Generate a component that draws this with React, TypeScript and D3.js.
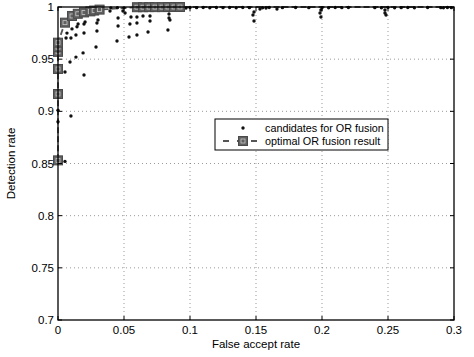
import React from "react";
import * as d3 from "d3";

// Candidate OR-fusion operating points: [false accept rate, detection rate]
const candidateFar: number[] = [
  0, 0, 0.0098, 0.0053, 0.0053, 0.0197, 0.0091, 0.0136, 0.019, 0.0288,
  0.0061, 0.0098, 0.0136, 0.0197, 0.0295, 0.0447, 0.0538, 0.0598, 0.0682, 0.0833,
  0.0106, 0.0144, 0.0152, 0.0197, 0.0205, 0.0295, 0.0303, 0.0455, 0.0455, 0.0545,
  0.0553, 0.0598, 0.0598, 0.0644, 0.0697, 0.0697, 0.0841, 0.0841, 0.0848, 0.0333,
  0.0394, 0.0492, 0.0508, 0.1477, 0.1485, 0.1485, 0.153, 0.1576, 0.1659, 0.1992,
  0.1985, 0.1992, 0.2477, 0.2477, 0.2485, 0.0068,
  0.04, 0.045, 0.05, 0.075, 0.1, 0.105, 0.11, 0.115, 0.12, 0.125,
  0.13, 0.135, 0.14, 0.145, 0.155, 0.16, 0.17, 0.18, 0.19, 0.2,
  0.205, 0.21, 0.215, 0.22, 0.24, 0.245, 0.25, 0.255, 0.26, 0.265,
  0.27, 0.28, 0.29, 0.292, 0.295, 0.298, 0.063, 0.068, 0.09, 0.097,
];
const candidateDet: number[] = [
  0.901, 0.89, 0.8955, 0.852, 0.9377, 0.9348, 0.9473, 0.952, 0.956, 0.9616,
  0.9703, 0.9703, 0.9732, 0.9751, 0.977, 0.9674, 0.9712, 0.9732, 0.976, 0.978,
  0.979, 0.981, 0.9837, 0.9837, 0.9856, 0.9847, 0.9875, 0.9895, 0.9818, 0.9837,
  0.9904, 0.9847, 0.9904, 0.9914, 0.9914, 0.9866, 0.9933, 0.9895, 0.9875, 0.9962,
  0.9962, 0.9962, 0.9942, 0.9923, 0.9952, 0.9866, 0.998, 0.999, 0.998, 0.9971,
  0.9942, 0.9904, 0.9971, 0.9942, 0.9923, 0.975,
  0.9992, 0.9994, 0.9992, 0.9995, 0.9995, 0.9994, 0.9995, 0.9993, 0.9995, 0.9994,
  0.9995, 0.9993, 0.9995, 0.9994, 0.9993, 0.9995, 0.9994, 0.9995, 0.9994, 0.9993,
  0.9992, 0.9995, 0.9994, 0.9995, 0.9994, 0.9993, 0.9995, 0.9992, 0.9994, 0.9995,
  0.9993, 0.9995, 0.9994, 0.9993, 0.9995, 0.9994, 0.9985, 0.9988, 0.9987, 0.999,
];

// Optimal OR fusion result (ROC envelope)
const optimalFar: number[] = [
  0, 0, 0, 0, 0, 0, 0.0053, 0.0106, 0.015, 0.0197,
  0.0245, 0.0274, 0.0315, 0.0598, 0.0644, 0.069, 0.0735, 0.0788, 0.0833, 0.0879,
  0.0924, 0.3,
];
const optimalDet: number[] = [
  0.853, 0.9166, 0.9406, 0.957, 0.9615, 0.9658, 0.985, 0.9914, 0.9935, 0.9948,
  0.9958, 0.9966, 0.9975, 0.9998, 0.9998, 0.9999, 0.9999, 0.9999, 1, 1,
  1, 1,
];
const markerCount = 21; // last optimal point only extends the line

const xTicks: number[] = [0, 0.05, 0.1, 0.15, 0.2, 0.25, 0.3];
const yTicks: number[] = [0.7, 0.75, 0.8, 0.85, 0.9, 0.95, 1];

const legendLabels: string[] = ["candidates for OR fusion", "optimal OR fusion result"];

const W = 474;
const H = 357;
const M = { left: 58, right: 20, top: 7, bottom: 37 };
const FONT = "'Liberation Sans', Arial, Helvetica, sans-serif";

export default function App() {
  const x = d3.scaleLinear().domain([0, 0.3]).range([M.left, W - M.right]);
  const y = d3.scaleLinear().domain([0.7, 1]).range([H - M.bottom, M.top]);

  const line = d3
    .line<number>()
    .x((i) => x(optimalFar[i]))
    .y((i) => y(optimalDet[i]));
  const idx = optimalFar.map((_, i) => i);

  const x0 = x.range()[0];
  const x1 = x.range()[1];
  const y0 = y.range()[0];
  const y1 = y.range()[1];

  const Marker = ({ cx, cy }: { cx: number; cy: number }) => (
    <g>
      <rect x={cx - 4.5} y={cy - 4.5} width={9} height={9} fill="#606060" stroke="#4a4a4a" strokeWidth={1} />
      <rect x={cx - 2} y={cy - 2} width={4} height={4} fill="none" stroke="#c8c8c8" strokeWidth={0.8} />
    </g>
  );

  const lx = 215;
  const ly = 119;

  return (
    <svg
      width={W}
      height={H}
      style={{ position: "absolute", left: 0, top: 0, background: "#fff" }}
      fontFamily={FONT}
    >
      <rect x={0} y={0} width={W} height={H} fill="#fff" />
      {/* grid */}
      <g stroke="#555" strokeWidth={0.6} strokeDasharray="1,3">
        {xTicks.slice(1, -1).map((t) => (
          <line key={"gx" + t} x1={x(t)} x2={x(t)} y1={y0} y2={y1} />
        ))}
        {yTicks.slice(1, -1).map((t) => (
          <line key={"gy" + t} x1={x0} x2={x1} y1={y(t)} y2={y(t)} />
        ))}
      </g>

      {/* optimal line */}
      <path d={line(idx) || ""} fill="none" stroke="#555" strokeWidth={1.8} strokeDasharray="6,3" />

      {/* candidates */}
      <g fill="#111">
        {candidateFar.map((f, i) => (
          <circle key={"c" + i} cx={x(f)} cy={y(candidateDet[i])} r={1.7} />
        ))}
      </g>

      {/* optimal markers */}
      {idx.slice(0, markerCount).map((i) => (
        <Marker key={"m" + i} cx={x(optimalFar[i])} cy={y(optimalDet[i])} />
      ))}

      {/* axes box */}
      <rect x={x0} y={y1} width={x1 - x0} height={y0 - y1} fill="none" stroke="#000" strokeWidth={1.3} />
      <g stroke="#000" strokeWidth={1}>
        {xTicks.map((t) => (
          <g key={"tx" + t}>
            <line x1={x(t)} x2={x(t)} y1={y0} y2={y0 - 4} />
            <line x1={x(t)} x2={x(t)} y1={y1} y2={y1 + 4} />
          </g>
        ))}
        {yTicks.map((t) => (
          <g key={"ty" + t}>
            <line x1={x0} x2={x0 + 4} y1={y(t)} y2={y(t)} />
            <line x1={x1} x2={x1 - 4} y1={y(t)} y2={y(t)} />
          </g>
        ))}
      </g>

      {/* tick labels */}
      <g fontSize={11.5} fill="#000">
        {xTicks.map((t) => (
          <text key={"lx" + t} x={x(t)} y={y0 + 14} textAnchor="middle">
            {d3.format("~g")(t)}
          </text>
        ))}
        {yTicks.map((t) => (
          <text key={"ly" + t} x={x0 - 4} y={y(t) + 4} textAnchor="end">
            {d3.format("~g")(t)}
          </text>
        ))}
      </g>

      {/* axis titles */}
      <text x={(x0 + x1) / 2} y={y0 + 28} textAnchor="middle" fontSize={11.5}>
        False accept rate
      </text>
      <text
        transform={`translate(${15},${(y0 + y1) / 2}) rotate(-90)`}
        textAnchor="middle"
        fontSize={11.5}
      >
        Detection rate
      </text>

      {/* legend */}
      <g>
        <rect x={lx} y={ly} width={173} height={31} fill="#fff" stroke="#000" strokeWidth={1} />
        <circle cx={lx + 28} cy={ly + 9} r={1.7} fill="#111" />
        <line x1={lx + 8} x2={lx + 48} y1={ly + 22} y2={ly + 22} stroke="#555" strokeWidth={1.8} strokeDasharray="6,8" />
        <Marker cx={lx + 28} cy={ly + 22} />
        <text x={lx + 50} y={ly + 13} fontSize={10.8}>
          {legendLabels[0]}
        </text>
        <text x={lx + 50} y={ly + 26} fontSize={10.8}>
          {legendLabels[1]}
        </text>
      </g>
    </svg>
  );
}
